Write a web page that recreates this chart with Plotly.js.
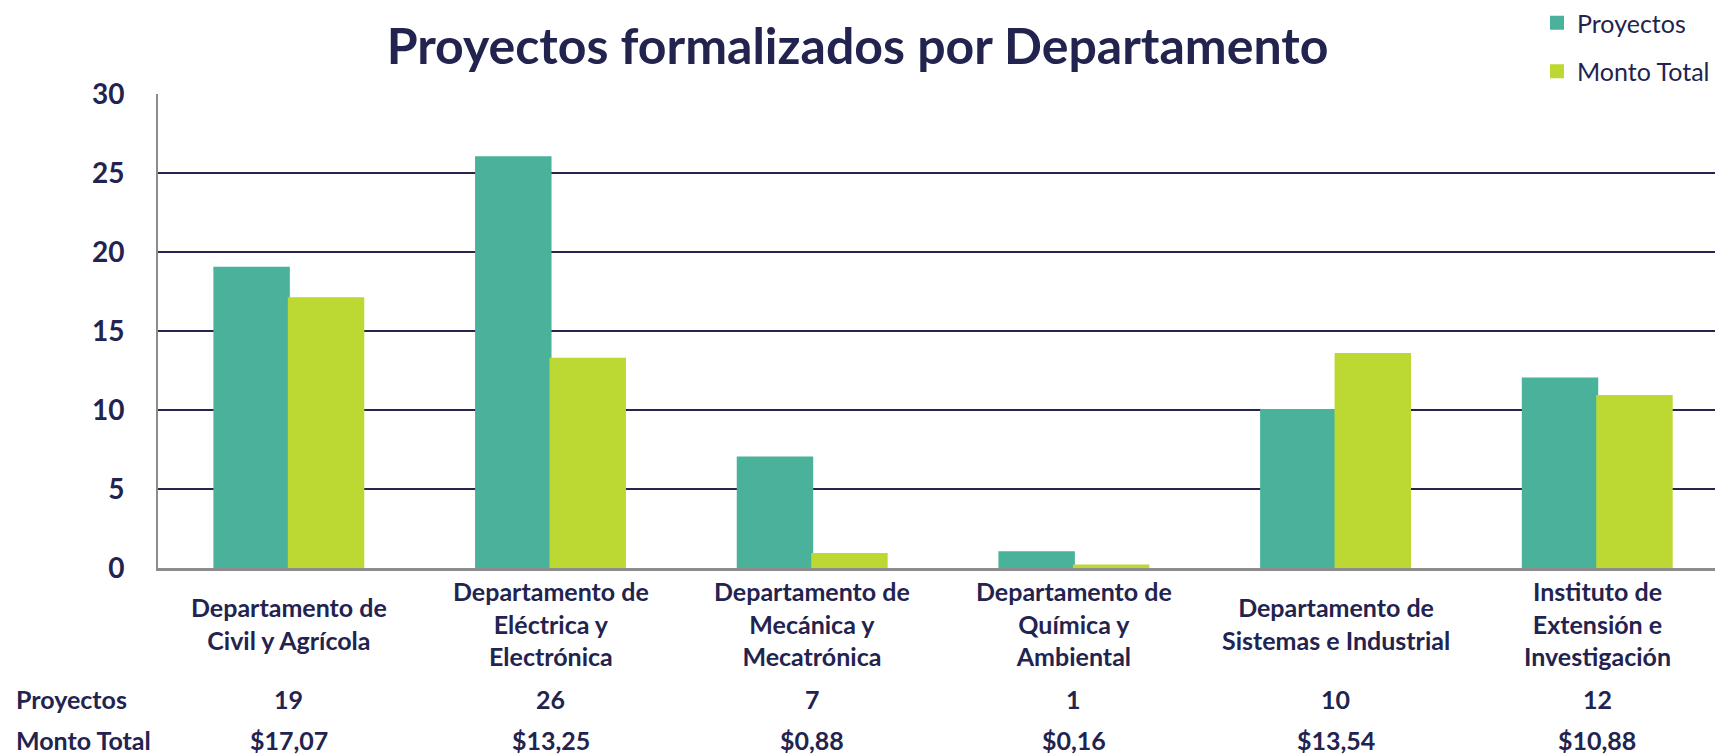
<!DOCTYPE html>
<html>
<head>
<meta charset="utf-8">
<script src="https://cdn.plot.ly/plotly-3.0.1.min.js"></script>
<style>html,body{margin:0;padding:0;background:#fff;}#chart{width:1715px;height:755px;}</style>
</head>
<body>
<div id="chart"></div>
<script>
const categories = [
  "Departamento de<br>Civil y Agrícola",
  "Departamento de<br>Eléctrica y<br>Electrónica",
  "Departamento de<br>Mecánica y<br>Mecatrónica",
  "Departamento de<br>Química y<br>Ambiental",
  "Departamento de<br>Sistemas e Industrial",
  "Instituto de<br>Extensión e<br>Investigación"
];
const proyectos = [19, 26, 7, 1, 10, 12];
const montoTotal = [17.07, 13.25, 0.88, 0.16, 13.54, 10.88];
const proyectosLabels = ["19", "26", "7", "1", "10", "12"];
const montoLabels = ["$17,07", "$13,25", "$0,88", "$0,16", "$13,54", "$10,88"];
const seriesNames = ["Proyectos", "Monto Total"];
const yTicks = [0, 5, 10, 15, 20, 25, 30];

const navy = "#23234F";
const font = "Lato, 'Open Sans', sans-serif";

const traces = [
  {type: "bar", name: seriesNames[0], x: categories, y: proyectos,
   marker: {color: "#4AB29A", line: {color: "#4AB29A", width: 2}}, legendgroup: "a", hoverinfo: "skip"},
  {type: "bar", name: seriesNames[1], x: categories, y: montoTotal,
   marker: {color: "#BCD832", line: {color: "#BCD832", width: 2}}, legendgroup: "b", hoverinfo: "skip"}
];

const lblFont = {family: font, size: 25, color: navy, weight: 700};
const annotations = [];
categories.forEach((c, i) => {
  annotations.push({x: c, xref: "x", y: -0.118, yref: "paper", text: c,
    showarrow: false, xanchor: "center", yanchor: "middle", font: lblFont});
  annotations.push({x: c, xref: "x", y: -0.277, yref: "paper", text: proyectosLabels[i],
    showarrow: false, xanchor: "center", yanchor: "middle", font: lblFont});
  annotations.push({x: c, xref: "x", y: -0.363, yref: "paper", text: montoLabels[i],
    showarrow: false, xanchor: "center", yanchor: "middle", font: lblFont});
});
annotations.push({x: -0.0925, xref: "paper", y: -0.277, yref: "paper", text: seriesNames[0],
  showarrow: false, xanchor: "left", yanchor: "middle", font: lblFont});
annotations.push({x: -0.0925, xref: "paper", y: -0.363, yref: "paper", text: seriesNames[1],
  showarrow: false, xanchor: "left", yanchor: "middle", font: lblFont});

const layout = {
  width: 1715, height: 755,
  margin: {l: 158, r: 0, t: 93, b: 187},
  paper_bgcolor: "#fff", plot_bgcolor: "#fff",
  title: {text: "Proyectos formalizados por Departamento",
    font: {family: font, size: 50, color: navy, weight: 700},
    x: 0.5, xref: "container", xanchor: "center", y: 1 - 46/755, yref: "container", yanchor: "middle"},
  barmode: "group", bargap: 0.431, bargroupgap: 0,
  xaxis: {type: "category", range: [-0.5, 5.45], showticklabels: false, ticks: "",
    showgrid: false, zeroline: false, showline: true, linecolor: "#8C8C8C", linewidth: 3, fixedrange: true},
  yaxis: {range: [0, 30], tickvals: yTicks, ticktext: yTicks.map(String), showgrid: true,
    gridcolor: "#262550", gridwidth: 2, zeroline: false, showline: true, linecolor: "#8C8C8C", linewidth: 2,
    ticks: "", ticklabelstandoff: 26,
    tickfont: {family: font, size: 28, color: navy, weight: 700}, fixedrange: true},
  showlegend: true,
  legend: {x: (1537 - 158) / 1557, xanchor: "left", y: 1, yref: "container", yanchor: "top",
    traceorder: "grouped", tracegroupgap: 13, bgcolor: "rgba(0,0,0,0)",
    font: {family: font, size: 25, color: navy}},
  annotations: annotations
};

Plotly.newPlot("chart", traces, layout, {staticPlot: true, displayModeBar: false});
</script>
</body>
</html>
